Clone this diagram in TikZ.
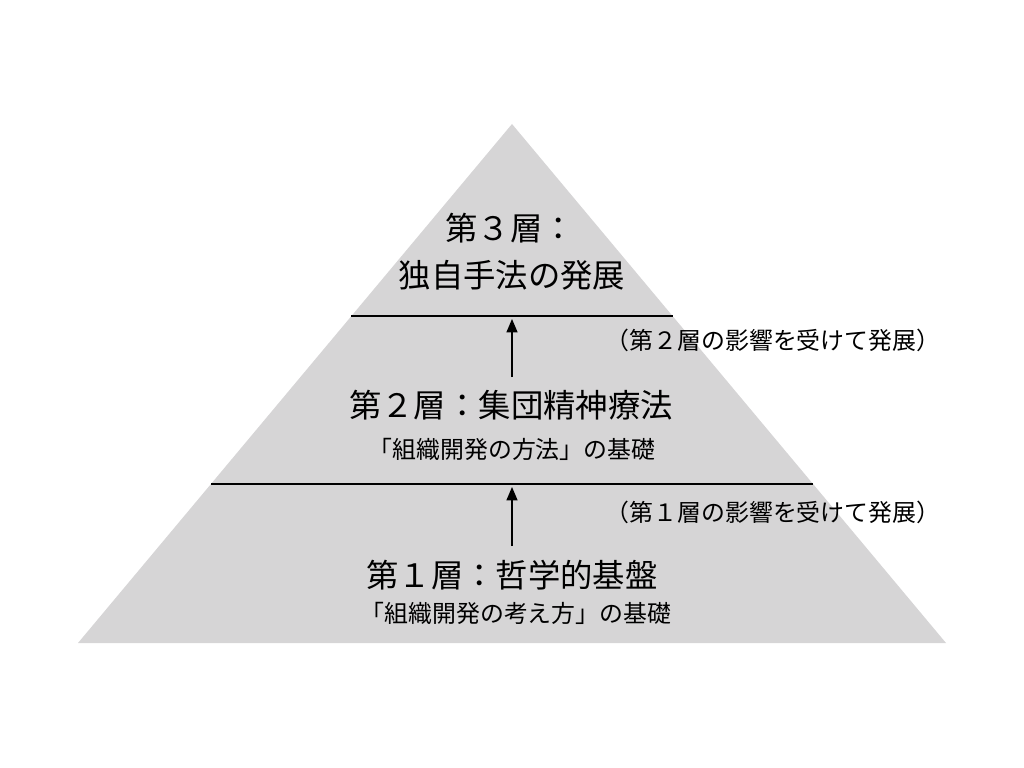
\documentclass[tikz,border=0pt]{standalone}
\usepackage{fontspec}
\usepackage{xcolor}
\usepackage{tikz}
\usetikzlibrary{arrows}
\setmainfont{Noto Sans CJK JP}
\definecolor{layergray}{RGB}{214,213,214}
\tikzstyle{layer} = [fill=layergray, draw=none]
\tikzstyle{title} = [inner sep=0pt, text centered, font=\fontsize{23}{28}\selectfont]
\tikzstyle{sub} = [inner sep=0pt, text centered, font=\fontsize{17}{20}\selectfont]
\tikzstyle{note} = [inner sep=0pt, text centered, font=\fontsize{17}{20}\selectfont]
\tikzstyle{border} = [line width=1.2pt, black]
\tikzstyle{arrow} = [line width=1.2pt,->,>=triangle 45]

\begin{document}
\begin{tikzpicture}[x=0.025cm, y=-0.025cm]
   \useasboundingbox (0,0) rectangle (1024,768);
   \fill [layer] (512,124) -- (946,643) -- (78,643) -- cycle;
   \draw [border] (351,316) -- (673,316);
   \draw [border] (211,484) -- (813,484);
   \node (l3a) [title] at (510,228) {第３層：};
   \node (l3b) [title] at (512,275) {独自手法の発展};
   \node (n2) [note] at (773,340) {（第２層の影響を受けて発展）};
   \node (l2a) [title] at (511,405) {第２層：集団精神療法};
   \node (l2b) [sub] at (512,449) {「組織開発の方法」の基礎};
   \node (n1) [note] at (773,512) {（第１層の影響を受けて発展）};
   \node (l1a) [title] at (512,575) {第１層：哲学的基盤};
   \node (l1b) [sub] at (516,613) {「組織開発の考え方」の基礎};
   \coordinate (a2s) at (512,377);
   \coordinate (a2e) at (512,319);
   \coordinate (a1s) at (512,546);
   \coordinate (a1e) at (512,487);
   \draw [arrow] (a2s) -- (a2e);
   \draw [arrow] (a1s) -- (a1e);
\end{tikzpicture}
\end{document}
